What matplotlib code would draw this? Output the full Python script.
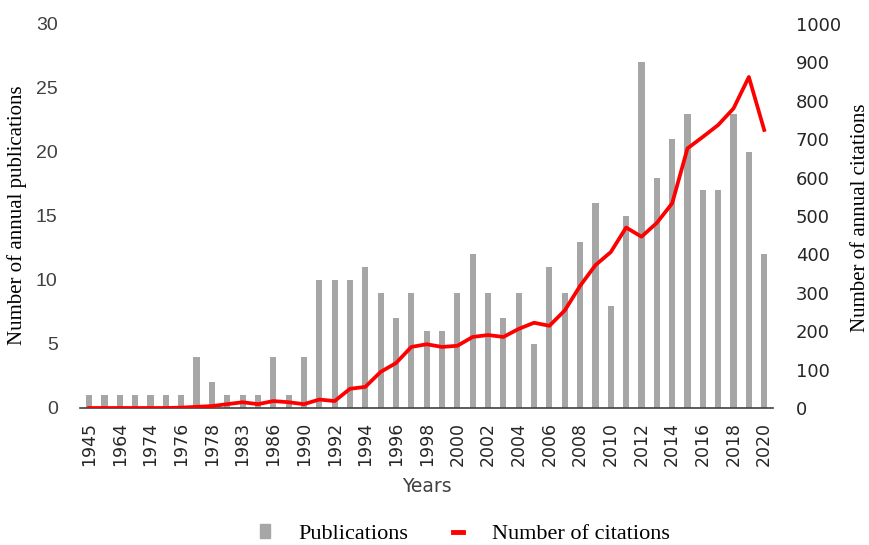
import numpy as np
import matplotlib.pyplot as plt
from matplotlib.lines import Line2D
from matplotlib.patches import Patch

# yearly data (early years are sparse, only years with papers are listed)
years = ['1945', '1950', '1964', '1970', '1974', '1975', '1976', '1977', '1978',
         '1980', '1983', '1984', '1986', '1988'] + [str(y) for y in range(1990, 2021)]
publications = [1, 1, 1, 1, 1, 1, 1, 4, 2, 1, 1, 1, 4, 1,
                4, 10, 10, 10, 11, 9, 7, 9, 6, 6, 9, 12, 9, 7, 9, 5, 11, 9,
                13, 16, 8, 15, 27, 18, 21, 23, 17, 17, 23, 20, 12]
citations = [0, 0, 0, 0, 0, 0, 1, 3, 5, 10, 15, 10, 18, 15,
             10, 22, 18, 50, 55, 94, 117, 159, 166, 159, 162, 185, 190, 185, 206, 222, 214, 254,
             318, 372, 406, 470, 446, 482, 533, 676, 706, 737, 780, 862, 724]

x = np.arange(len(years))

fig = plt.figure(figsize=(8.69, 5.45), dpi=100)
ax = fig.add_axes([0.092, 0.2514, 0.798, 0.7046])
ax2 = ax.twinx()

ax.bar(x, publications, width=0.4, color='#a6a6a6', zorder=2)
ax2.plot(x, citations, color='#ff0000', linewidth=2.7, solid_joinstyle='round', zorder=3)

ax.set_xlim(-0.6, len(years) - 0.4)
ax.set_ylim(0, 30)
ax2.set_ylim(0, 1000)
ax.set_yticks(range(0, 31, 5))
ax2.set_yticks(range(0, 1001, 100))

ax.set_xticks(x[::2])
ax.set_xticklabels(years[::2], rotation=90, fontsize=12.5, family='DejaVu Sans', color='#262626')

for a in (ax, ax2):
    for s in a.spines.values():
        s.set_visible(False)
    a.tick_params(length=0)
ax.spines['bottom'].set_visible(True)
ax.spines['bottom'].set_color('#404040')
ax.spines['bottom'].set_linewidth(1.2)
ax.spines['bottom'].set_zorder(4)

ax.tick_params(axis='y', pad=16, labelsize=14, labelcolor='#404040')
for t in ax.get_yticklabels():
    t.set_family('Liberation Sans')
ax.tick_params(axis='x', pad=10)
ax2.tick_params(axis='y', pad=16, labelsize=13, labelcolor='#262626')

ax.set_xlabel('Years', fontsize=13.5, family='DejaVu Sans', color='#404040', labelpad=8)
fig.text(0.02, 0.605, 'Number of annual publications', rotation=90, ha='center', va='center',
         fontsize=15, family='Liberation Serif')
fig.text(0.99, 0.60, 'Number of annual citations', rotation=90, ha='center', va='center',
         fontsize=15, family='Liberation Serif')

handles = [Patch(color='#a6a6a6'),
           Line2D([0], [0], color='#ff0000', linewidth=3.5)]
fig.legend(handles, ['Publications', 'Number of citations'], loc='center',
           bbox_to_anchor=(0.535, 0.02), ncol=2, frameon=False, handlelength=0.45,
           handleheight=0.6, handletextpad=1.3, columnspacing=2.0,
           prop={'family': 'Liberation Serif', 'size': 16})

fig.savefig('out.png', dpi=100)
